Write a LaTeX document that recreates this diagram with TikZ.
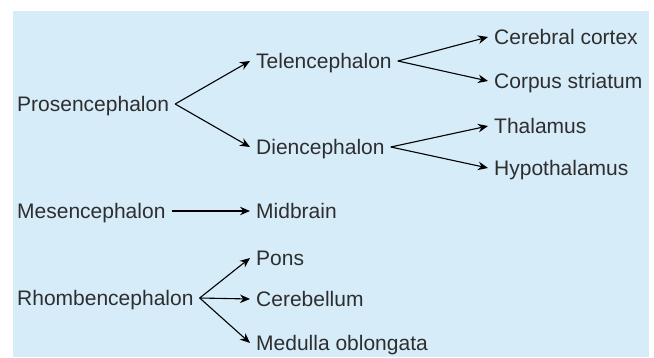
\documentclass[tikz,border=0pt]{standalone}
\usepackage{fontspec}
\setmainfont{Liberation Sans}
\usepackage{xcolor}
\usepackage{tikz}
\usetikzlibrary{arrows.meta}
\definecolor{bgblue}{HTML}{D6ECF9}
\definecolor{txtgray}{HTML}{2E2E2E}

\begin{document}
\begin{tikzpicture}[x=1pt, y=1pt,
    part/.style={anchor=west, inner xsep=6pt, inner ysep=0pt, text height=15pt, text depth=0pt, text=txtgray, font=\fontsize{21}{25}\selectfont},
    arr/.style={-{Stealth[length=10pt, width=8.5pt]}, line width=1.1pt, black}]
  % 1. Nen
  \useasboundingbox (0, 0) rectangle (654, 357);
  \fill[bgblue] (13, 0) rectangle (649, 346);

  % 2. Nao truoc
  \node[part] (pros) at (11, 253) {Prosencephalon};
  \node[part] (tel) at (250, 296) {Telencephalon};
  \node[part] (dien) at (250, 210) {Diencephalon};
  \node[part] (cc) at (488, 320) {Cerebral cortex};
  \node[part] (cs) at (488, 276) {Corpus striatum};
  \node[part] (thal) at (488, 231) {Thalamus};
  \node[part] (hypo) at (488, 189) {Hypothalamus};

  % 3. Nao giua
  \node[part] (mes) at (11, 146) {Mesencephalon};
  \node[part] (mid) at (250, 146) {Midbrain};

  % 4. Nao sau
  \node[part] (rhomb) at (11, 59) {Rhombencephalon};
  \node[part] (pons) at (250, 99) {Pons};
  \node[part] (cereb) at (250, 58) {Cerebellum};
  \node[part] (med) at (250, 14) {Medulla oblongata};

  % 5. Mui ten
  \draw[arr] (pros.east) -- (tel.west);
  \draw[arr] (pros.east) -- (dien.west);
  \draw[arr] (tel.east) -- (cc.west);
  \draw[arr] (tel.east) -- (cs.west);
  \draw[arr] (dien.east) -- (thal.west);
  \draw[arr] (dien.east) -- (hypo.west);
  \draw[arr] (mes.east) -- (mid.west);
  \draw[arr] (rhomb.east) -- (pons.west);
  \draw[arr] (rhomb.east) -- (cereb.west);
  \draw[arr] (rhomb.east) -- (med.west);
\end{tikzpicture}
\end{document}
